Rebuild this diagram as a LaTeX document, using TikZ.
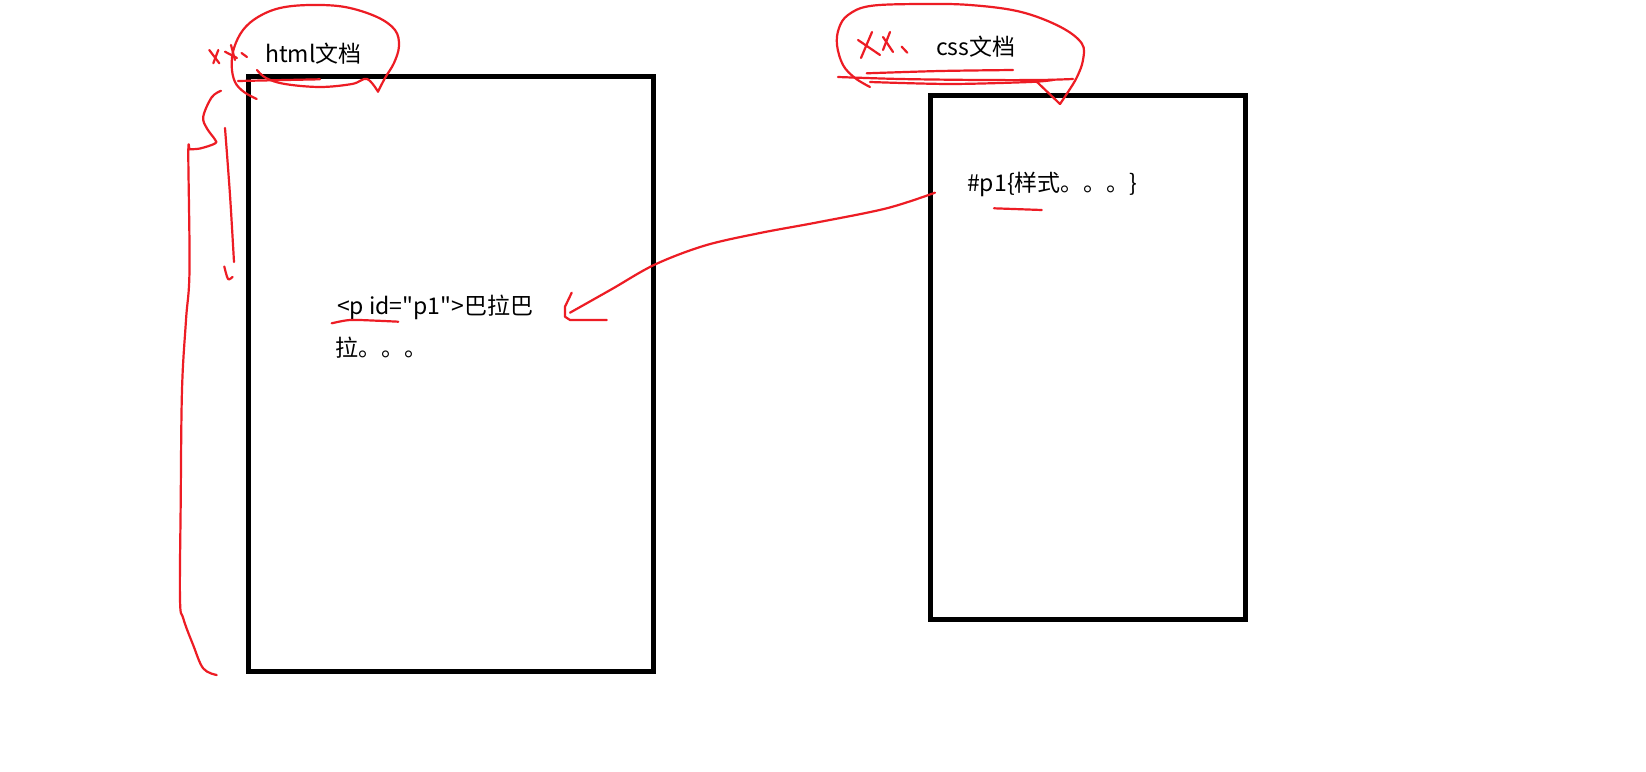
\documentclass[tikz,border=0pt]{standalone}
\usepackage{fontspec}
\setmainfont{Noto Sans CJK SC}
\newfontfamily\docfont{Noto Sans CJK SC}
\definecolor{inkred}{RGB}{237,28,36}
\begin{document}
\begin{tikzpicture}[x=1pt,y=-1pt,
  doc/.style={draw=black, line width=5pt, inner sep=0pt, outer sep=0pt},
  lbl/.style={font=\docfont\fontsize{23}{28}\selectfont, inner sep=0pt, anchor=base west},
  ink/.style={draw=inkred, line width=2.2pt, line cap=round, line join=round},
]
\useasboundingbox (0,0) rectangle (1646,771);
\fill[white] (0,0) rectangle (1646,771);

% boxes
\node[doc, minimum width=405pt, minimum height=595.5pt] (htmlbox) at (451,373.75) {};
\node[doc, minimum width=315.5pt, minimum height=524pt] (cssbox) at (1087.75,357.5) {};

% texts
\node[lbl] (htmltitle) at (265,62) {html文档};
\node[lbl] (csstitle) at (936,55.5) {css文档};
\node[lbl] (ptagA) at (337,314) {<p id="p1">巴拉巴};
\node[lbl] (ptagB) at (335,356) {拉。。。};
\node[lbl] (cssrule) at (967,191.5) {\#p1\{样式。。。\}};

% arrow from css rule to html element
\coordinate (arrtail) at (935,192.7);
\coordinate (arrtip) at (570,312.7);
\draw[ink] plot[smooth, tension=0.55] coordinates {(arrtail) (886.7,208.3) (816.7,222.5) (760,233) (705,245.5) (655,264.5) (612,289) (arrtip)};
\draw[ink] (571.7,292.7) -- (565,306.7) -- (565,316.7) -- (570,320) -- (606.7,320);

% underlines
\draw[ink] plot[smooth] coordinates {(331.7,323.3) (350,320) (376.7,320.7) (398.3,321.7)};
\draw[ink] (994,208.3) -- (1041.7,210);

% html ellipse
\draw[ink] plot[smooth, tension=0.6] coordinates {(256.7,99) (244,92) (235,82) (231.7,66) (234,48) (243,30) (258,17) (280,8) (310,5) (345,7) (377,17) (395,30) (399,46) (394,63) (385,78) (378,91.7)};
\draw[ink] plot[smooth, tension=0.6] coordinates {(378,91.7) (367,79) (352,84) (320,87) (285,84) (266,78) (257,70)};
\draw[ink] (238,81) -- (320,79.3);

% html xx
\draw[ink] (209.3,50) -- (219.3,63.3);
\draw[ink] (218.3,50) -- (213.3,63.3);
\draw[ink] (225,51.7) -- (237,58);
\draw[ink] (231,45) -- (235,60);
\draw[ink] (241.5,53) -- (247,57);

% css ellipse
\draw[ink] plot[smooth, tension=0.6] coordinates {(870,87) (855,78) (843,65) (837,45) (839,28) (848,15) (870,6) (920,4) (970,5) (1020,11.7) (1060,26.7) (1081.7,43.3) (1083,60) (1077,77) (1068,92) (1060,104)};
\draw[ink] (1060,104) -- (1037,82);
\draw[ink] plot[smooth] coordinates {(838,77) (900,79) (980,80) (1040,80) (1073,79)};
\draw[ink] plot[smooth] coordinates {(870,82) (950,84) (1030,82) (1053,80)};
\draw[ink] plot[smooth] coordinates {(866.7,73.3) (940,71) (1013,70)};

% css XX
\draw[ink] (858,40) -- (880,55);
\draw[ink] (872,32) -- (861,58);
\draw[ink] (883,37) -- (893,52);
\draw[ink] (890,32) -- (883,50);
\draw[ink] (901.7,46.7) -- (907.3,52.7);

% left brace
\draw[ink] plot[smooth, tension=0.6] coordinates {(221,90.8) (211.7,97.3) (203.3,116.5) (206.7,128) (215,139.6) (215,143.5) (200,148.5) (189.3,149.2)};
\draw[ink] plot[smooth, tension=0.6] coordinates {(189.3,149.2) (188.3,155) (189.5,270) (186,320) (182,390) (180.7,503) (180,599) (183.3,618.5) (193.3,645.4) (203.3,668.5) (216.7,675)};
\draw[ink] plot[smooth] coordinates {(225,128) (230,195) (234,262)};
\draw[ink] plot[smooth] coordinates {(224.3,266.5) (228,279) (232.5,277)};
\end{tikzpicture}
\end{document}
